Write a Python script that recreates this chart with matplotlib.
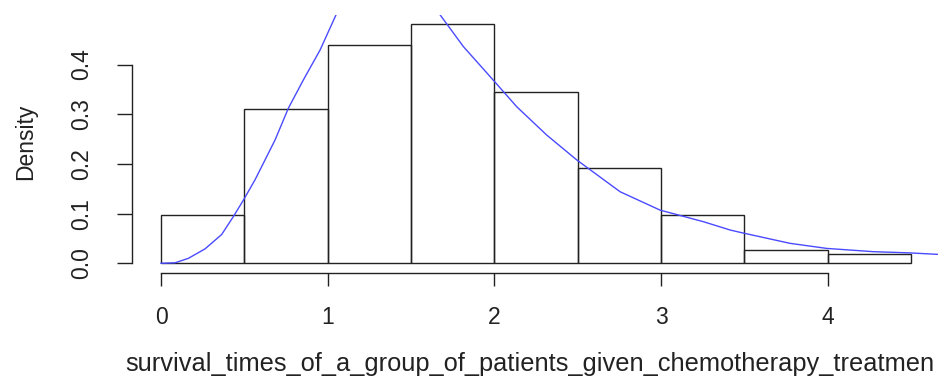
import numpy as np
import matplotlib
matplotlib.use('Agg')
import matplotlib.pyplot as plt

plt.rcParams['font.family'] = ['Liberation Sans', 'DejaVu Sans']

# histogram of survival times (density scale), bins of width 0.5
bin_edges = [0.0, 0.5, 1.0, 1.5, 2.0, 2.5, 3.0, 3.5, 4.0, 4.5]
bar_density = [0.097, 0.311, 0.439, 0.481, 0.344, 0.191, 0.097, 0.027, 0.018]

# fitted density curve (top part is clipped)
curve_x = [0.0, 0.084, 0.164, 0.264, 0.364, 0.434, 0.494, 0.564, 0.624, 0.684,
           0.764, 0.854, 0.954, 1.05, 1.2, 1.35, 1.5, 1.674, 1.814, 1.984,
           2.134, 2.314, 2.494, 2.754, 2.994, 3.254, 3.414, 3.483, 3.773, 3.993,
           4.273, 4.489, 4.66]
curve_y = [0.0, 0.001, 0.010, 0.029, 0.058, 0.094, 0.127, 0.168, 0.208, 0.248,
           0.312, 0.369, 0.429, 0.50, 0.58, 0.61, 0.58, 0.50, 0.436, 0.372,
           0.315, 0.258, 0.208, 0.144, 0.107, 0.0837, 0.067, 0.0616, 0.0402, 0.030,
           0.0234, 0.021, 0.018]

x_ticks = [0, 1, 2, 3, 4]
y_ticks = [0.0, 0.1, 0.2, 0.3, 0.4]

W, H = 938, 379
fig = plt.figure(figsize=(W / 100, H / 100), dpi=100)
ax = fig.add_axes([132 / W, (H - 273.3) / H, (W - 132) / W, (273.3 - 15) / H])

ax.bar(bin_edges[:-1], bar_density, width=0.5, align='edge', fill=False,
       edgecolor='#222222', linewidth=1.0)
ax.plot(curve_x, curve_y, color='#4a4aff', linewidth=1.0)

ax.set_xlim(-0.174, 4.661)
ax.set_ylim(-0.0201, 0.4996)

for s in ['top', 'right']:
    ax.spines[s].set_visible(False)
ax.spines['left'].set_bounds(0, 0.4)
ax.spines['bottom'].set_bounds(0, 4)
for s in ['left', 'bottom']:
    ax.spines[s].set_color('#222222')
    ax.spines[s].set_linewidth(1.0)

ax.set_xticks(x_ticks)
ax.set_xticklabels([str(t) for t in x_ticks])
ax.set_yticks(y_ticks)
ax.set_yticklabels(['%.1f' % t for t in y_ticks])
ax.tick_params(axis='x', direction='out', length=9.5, width=1.0, color='#222222',
               labelsize=16.5, pad=14, labelcolor='#222222')
ax.tick_params(axis='y', direction='out', length=11, width=1.0, color='#222222',
               labelsize=16.5, pad=17, labelcolor='#222222')
plt.setp(ax.get_yticklabels(), rotation=90, va='center')

fig.text(26 / W, 1 - 142 / H, 'Density', rotation=90, ha='center', va='center',
         fontsize=16.5, color='#222222')
# the reference shows the label cut at the right edge, so keep the visible part
fig.text(125 / W, 1 - 364 / H,
         'survival_times_of_a_group_of_patients_given_chemotherapy_treatmen',
         ha='left', va='center', fontsize=18.3, color='#222222')

fig.savefig('out.png', dpi=100, facecolor='white')
